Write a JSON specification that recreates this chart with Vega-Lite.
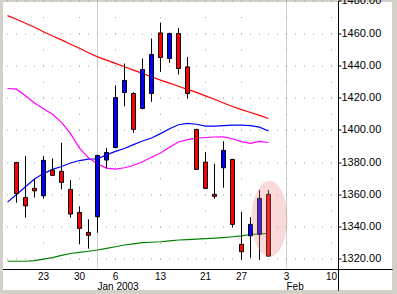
{
  "$schema": "https://vega.github.io/schema/vega-lite/v6.json",
  "width": 389,
  "height": 288,
  "autosize": {"type": "none"},
  "padding": {"left": 3, "top": 2, "right": 5, "bottom": 4},
  "background": "#d4d0c8",
  "config": {
    "view": {"fill": "white", "stroke": null},
    "axis": {"labelFont": "Liberation Sans", "labelFontSize": 11, "labelColor": "#000000", "labelOverlap": false, "labelFlush": false, "labelBound": false}
  },
  "datasets": {
    "candles": [
      {"date": "2002-12-18", "day": -3, "open": 1380.1, "high": 1380.5, "low": 1355.1, "close": 1360.9},
      {"date": "2002-12-19", "day": -2, "open": 1358.4, "high": 1384.2, "low": 1345.8, "close": 1353.2},
      {"date": "2002-12-20", "day": -1, "open": 1364.0, "high": 1370.0, "low": 1358.4, "close": 1362.5},
      {"date": "2002-12-23", "day": 0, "open": 1359.4, "high": 1384.2, "low": 1357.6, "close": 1381.4},
      {"date": "2002-12-24", "day": 1, "open": 1375.4, "high": 1382.6, "low": 1371.8, "close": 1372.1},
      {"date": "2002-12-26", "day": 2, "open": 1374.6, "high": 1392.3, "low": 1363.4, "close": 1367.7},
      {"date": "2002-12-27", "day": 3, "open": 1363.4, "high": 1369.2, "low": 1345.8, "close": 1348.1},
      {"date": "2002-12-30", "day": 4, "open": 1349.1, "high": 1352.9, "low": 1329.3, "close": 1339.2},
      {"date": "2002-12-31", "day": 5, "open": 1336.7, "high": 1344.8, "low": 1326.6, "close": 1334.9},
      {"date": "2003-01-02", "day": 6, "open": 1346.4, "high": 1384.8, "low": 1336.5, "close": 1384.5},
      {"date": "2003-01-03", "day": 7, "open": 1381.6, "high": 1389.2, "low": 1376.4, "close": 1386.3},
      {"date": "2003-01-06", "day": 8, "open": 1389.4, "high": 1427.9, "low": 1388.8, "close": 1420.4},
      {"date": "2003-01-07", "day": 9, "open": 1423.5, "high": 1441.5, "low": 1415.0, "close": 1431.0},
      {"date": "2003-01-08", "day": 10, "open": 1422.9, "high": 1423.7, "low": 1398.5, "close": 1400.6},
      {"date": "2003-01-09", "day": 11, "open": 1413.6, "high": 1444.6, "low": 1413.0, "close": 1437.8},
      {"date": "2003-01-10", "day": 12, "open": 1422.9, "high": 1457.0, "low": 1417.7, "close": 1447.1},
      {"date": "2003-01-13", "day": 13, "open": 1460.5, "high": 1466.9, "low": 1436.3, "close": 1445.2},
      {"date": "2003-01-14", "day": 14, "open": 1444.6, "high": 1460.7, "low": 1441.9, "close": 1460.1},
      {"date": "2003-01-15", "day": 15, "open": 1460.1, "high": 1463.6, "low": 1434.7, "close": 1438.4},
      {"date": "2003-01-16", "day": 16, "open": 1439.4, "high": 1445.6, "low": 1419.8, "close": 1422.9},
      {"date": "2003-01-17", "day": 17, "open": 1400.6, "high": 1401.0, "low": 1375.5, "close": 1375.8},
      {"date": "2003-01-21", "day": 18, "open": 1380.3, "high": 1386.5, "low": 1363.6, "close": 1364.0},
      {"date": "2003-01-22", "day": 19, "open": 1360.3, "high": 1379.1, "low": 1357.6, "close": 1359.1},
      {"date": "2003-01-23", "day": 20, "open": 1376.8, "high": 1393.3, "low": 1364.4, "close": 1387.6},
      {"date": "2003-01-24", "day": 21, "open": 1382.0, "high": 1382.3, "low": 1339.8, "close": 1341.7},
      {"date": "2003-01-27", "day": 22, "open": 1329.3, "high": 1349.3, "low": 1319.6, "close": 1324.7},
      {"date": "2003-01-28", "day": 23, "open": 1334.6, "high": 1346.2, "low": 1321.0, "close": 1341.7},
      {"date": "2003-01-29", "day": 24, "open": 1335.5, "high": 1363.0, "low": 1319.6, "close": 1357.8},
      {"date": "2003-01-30", "day": 25, "open": 1360.3, "high": 1363.0, "low": 1321.8, "close": 1322.0}
    ],
    "averages": [
      {"day": -4, "trend": 1471.2, "ma50": 1355.5, "ma20": 1426.0, "ma200": 1318.8},
      {"day": -3, "trend": 1469.0, "ma50": 1360.2, "ma20": 1425.6, "ma200": 1318.8},
      {"day": -2, "trend": 1466.5, "ma50": 1365.0, "ma20": 1421.5, "ma200": 1318.8},
      {"day": -1, "trend": 1464.0, "ma50": 1369.8, "ma20": 1417.0, "ma200": 1319.2},
      {"day": 0, "trend": 1461.2, "ma50": 1373.2, "ma20": 1413.5, "ma200": 1320.1},
      {"day": 1, "trend": 1458.6, "ma50": 1375.8, "ma20": 1410.0, "ma200": 1321.1},
      {"day": 2, "trend": 1456.2, "ma50": 1377.6, "ma20": 1405.0, "ma200": 1322.4},
      {"day": 3, "trend": 1453.5, "ma50": 1379.8, "ma20": 1398.0, "ma200": 1323.6},
      {"day": 4, "trend": 1451.0, "ma50": 1381.3, "ma20": 1389.0, "ma200": 1324.3},
      {"day": 5, "trend": 1448.2, "ma50": 1382.2, "ma20": 1383.0, "ma200": 1325.0},
      {"day": 6, "trend": 1445.6, "ma50": 1382.4, "ma20": 1379.2, "ma200": 1325.8},
      {"day": 7, "trend": 1443.6, "ma50": 1384.8, "ma20": 1376.6, "ma200": 1326.8},
      {"day": 8, "trend": 1441.6, "ma50": 1387.0, "ma20": 1376.0, "ma200": 1327.8},
      {"day": 9, "trend": 1439.5, "ma50": 1388.8, "ma20": 1376.8, "ma200": 1328.9},
      {"day": 10, "trend": 1437.4, "ma50": 1391.2, "ma20": 1378.2, "ma200": 1329.6},
      {"day": 11, "trend": 1435.4, "ma50": 1393.4, "ma20": 1380.5, "ma200": 1330.3},
      {"day": 12, "trend": 1433.3, "ma50": 1395.3, "ma20": 1383.3, "ma200": 1330.6},
      {"day": 13, "trend": 1431.2, "ma50": 1398.0, "ma20": 1386.0, "ma200": 1330.9},
      {"day": 14, "trend": 1429.3, "ma50": 1401.0, "ma20": 1389.5, "ma200": 1331.4},
      {"day": 15, "trend": 1427.4, "ma50": 1403.5, "ma20": 1392.8, "ma200": 1332.0},
      {"day": 16, "trend": 1425.5, "ma50": 1404.3, "ma20": 1394.3, "ma200": 1332.2},
      {"day": 17, "trend": 1423.6, "ma50": 1403.8, "ma20": 1395.2, "ma200": 1332.5},
      {"day": 18, "trend": 1421.4, "ma50": 1402.6, "ma20": 1395.6, "ma200": 1332.8},
      {"day": 19, "trend": 1419.3, "ma50": 1402.7, "ma20": 1395.9, "ma200": 1333.1},
      {"day": 20, "trend": 1417.0, "ma50": 1403.0, "ma20": 1396.0, "ma200": 1333.5},
      {"day": 21, "trend": 1414.8, "ma50": 1403.3, "ma20": 1394.8, "ma200": 1334.0},
      {"day": 22, "trend": 1412.9, "ma50": 1403.3, "ma20": 1393.0, "ma200": 1334.6},
      {"day": 23, "trend": 1411.1, "ma50": 1403.0, "ma20": 1392.0, "ma200": 1335.4},
      {"day": 24, "trend": 1409.3, "ma50": 1402.0, "ma20": 1393.2, "ma200": 1335.7},
      {"day": 25, "trend": 1407.4, "ma50": 1399.6, "ma20": 1392.5, "ma200": 1336.1}
    ],
    "highlight": [
      {"day": 25.1, "price": 1345.2}
    ]
  },
  "resolve": {"axis": {"x": "independent", "y": "independent"}},
  "layer": [
    {
      "data": {"name": "averages"},
      "transform": [{"fold": ["trend", "ma50", "ma20", "ma200"], "as": ["series", "value"]}],
      "mark": {"type": "line", "strokeWidth": 1.2},
      "encoding": {
        "x": {
          "field": "day", "type": "quantitative",
          "scale": {"domain": [-4.5, 32.778], "range": [0, 335.5], "nice": false, "zero": false, "padding": 0},
          "axis": {
            "orient": "top", "offset": -267.5, "translate": 0, "tickRound": false,
            "values": [0, 4, 8, 13, 18, 22, 27, 32],
            "labelExpr": "datum.value == 0 ? '23' : datum.value == 4 ? '30' : datum.value == 8 ? '6' : datum.value == 13 ? '13' : datum.value == 18 ? '21' : datum.value == 22 ? '27' : datum.value == 27 ? '3' : '10'",
            "domain": false, "ticks": false, "labelPadding": -2, "labelBaseline": "top", "labelAlign": "center", "labelFontSize": 10,
            "grid": true, "gridDash": [1, 15.114], "gridDashOffset": 6.44, "gridColor": "#a0a0a0", "gridOpacity": 1,
            "title": null
          }
        },
        "y": {
          "field": "value", "type": "quantitative",
          "scale": {"domain": [1313.68, 1480.3], "range": [267.5, -1.0], "nice": false, "zero": false, "padding": 0},
          "axis": {
            "orient": "left", "offset": -335.5, "translate": 0,
            "values": [1320, 1340, 1360, 1380, 1400, 1420, 1440, 1460, 1480],
            "domain": false, "ticks": false, "labels": false,
            "grid": true, "gridDash": [1, 8], "gridDashOffset": 5, "gridColor": "#a0a0a0", "gridOpacity": 1,
            "title": null
          }
        },
        "color": {
          "field": "series", "type": "nominal",
          "scale": {"domain": ["trend", "ma50", "ma20", "ma200"], "range": ["#ff0000", "#0000ff", "#ff00ff", "#008000"]},
          "legend": null
        }
      }
    },
    {
      "data": {"name": "candles"},
      "mark": {"type": "rule", "color": "#000000", "strokeWidth": 1},
      "encoding": {
        "x": {
          "field": "day", "type": "quantitative",
          "scale": {"domain": [-4.5, 32.778], "range": [0, 335.5], "nice": false, "zero": false, "padding": 0},
          "axis": {
            "orient": "top", "offset": -267.5, "translate": 0, "tickRound": false,
            "values": [6, 27],
            "labelExpr": "datum.value == 6 ? 'Jan 2003' : 'Feb'",
            "domain": false, "ticks": false, "labelPadding": -12, "labelBaseline": "top", "labelAlign": "left", "labelFontSize": 10,
            "grid": true, "gridDash": [1, 1], "gridColor": "#a0a0a0", "gridOpacity": 1,
            "title": null
          }
        },
        "y": {
          "field": "low", "type": "quantitative",
          "scale": {"domain": [1313.68, 1480.3], "range": [267.5, -1.0], "nice": false, "zero": false, "padding": 0},
          "axis": {
            "orient": "right", "offset": -53.5, "translate": 0,
            "values": [1320, 1340, 1360, 1380, 1400, 1420, 1440, 1460, 1480],
            "format": ".2f", "domain": false, "ticks": true, "tickSize": 3, "tickColor": "#000000",
            "labelAlign": "left", "labelPadding": 0, "grid": false,
            "title": null
          }
        },
        "y2": {"field": "high"}
      }
    },
    {
      "data": {"name": "candles"},
      "mark": {"type": "bar", "size": 4, "stroke": "#000000", "strokeWidth": 1},
      "encoding": {
        "x": {"field": "day", "type": "quantitative", "scale": {"domain": [-4.5, 32.778], "range": [0, 335.5], "nice": false, "zero": false, "padding": 0}, "axis": null},
        "y": {"field": "open", "type": "quantitative", "scale": {"domain": [1313.68, 1480.3], "range": [267.5, -1.0], "nice": false, "zero": false, "padding": 0}, "axis": null},
        "y2": {"field": "close"},
        "color": {"condition": {"test": "datum.close > datum.open", "value": "#0000ff"}, "value": "#ff0000"}
      }
    },
    {
      "data": {"values": [{}]},
      "mark": {"type": "rule", "color": "#000000", "strokeWidth": 1},
      "encoding": {
        "x": {"datum": -4.5, "type": "quantitative", "scale": {"domain": [-4.5, 32.778], "range": [0, 335.5], "nice": false, "zero": false, "padding": 0}, "axis": null},
        "x2": {"datum": 38.78},
        "y": {"datum": 1313.68, "type": "quantitative", "scale": {"domain": [1313.68, 1480.3], "range": [267.5, -1.0], "nice": false, "zero": false, "padding": 0}, "axis": null}
      }
    },
    {
      "data": {"values": [{}]},
      "mark": {"type": "rule", "color": "#000000", "strokeWidth": 1},
      "encoding": {
        "x": {"datum": 32.778, "type": "quantitative", "scale": {"domain": [-4.5, 32.778], "range": [0, 335.5], "nice": false, "zero": false, "padding": 0}, "axis": null},
        "y": {"datum": 1300.6, "type": "quantitative", "scale": {"domain": [1313.68, 1480.3], "range": [267.5, -1.0], "nice": false, "zero": false, "padding": 0}, "axis": null},
        "y2": {"datum": 1480.3}
      }
    },
    {
      "data": {"name": "highlight"},
      "mark": {"type": "point", "filled": true, "shape": "M -0.47 0 A 0.47 1 0 1 0 0.47 0 A 0.47 1 0 1 0 -0.47 0 Z", "size": 5776, "color": "#f08080", "opacity": 0.3, "strokeWidth": 0},
      "encoding": {
        "x": {"field": "day", "type": "quantitative", "scale": {"domain": [-4.5, 32.778], "range": [0, 335.5], "nice": false, "zero": false, "padding": 0}, "axis": null},
        "y": {"field": "price", "type": "quantitative", "scale": {"domain": [1313.68, 1480.3], "range": [267.5, -1.0], "nice": false, "zero": false, "padding": 0}, "axis": null}
      }
    }
  ]
}
